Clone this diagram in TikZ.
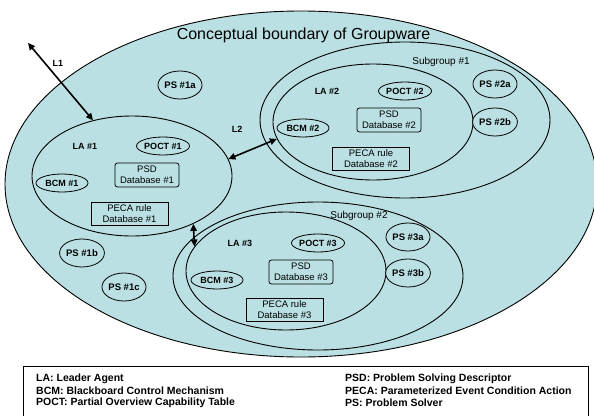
\documentclass[tikz,border=0pt]{standalone}
\usepackage{fontspec}
\setmainfont{Liberation Sans}
\usetikzlibrary{shapes.geometric,arrows.meta}
\definecolor{gwfill}{RGB}{187,224,227}
\begin{document}
\begin{tikzpicture}[x=1pt,y=-1pt,
  region/.style={draw,fill=gwfill,ellipse,line width=0.9pt,inner sep=0pt},
  agentlbl/.style={font=\fontsize{9}{10}\selectfont\bfseries,inner sep=0pt},
  oval/.style={draw,fill=gwfill,ellipse,line width=0.8pt,inner sep=0pt,
    minimum width=50,minimum height=18,font=\fontsize{9}{10}\selectfont\bfseries},
  solver/.style={draw,fill=gwfill,ellipse,line width=0.8pt,inner sep=0pt,
    minimum width=32,minimum height=28,font=\fontsize{9.5}{10}\selectfont\bfseries},
  psdbox/.style={draw,rounded corners=2.5pt,line width=0.8pt,inner sep=0pt,
    minimum width=64,minimum height=24,align=center,
    font=\fontsize{9.5}{11}\selectfont},
  pecabox/.style={draw,line width=0.8pt,inner sep=0pt,
    minimum width=77,minimum height=23,align=center,
    font=\fontsize{9.5}{11}\selectfont},
  grouplbl/.style={font=\fontsize{10}{12}\selectfont,inner sep=0pt},
  link/.style={{Triangle[length=7pt,width=6.5pt]}-{Triangle[length=7pt,width=6.5pt]},line width=1.6pt},
  legendtxt/.style={font=\fontsize{10.5}{12}\selectfont\bfseries,inner sep=0pt,anchor=west}
]
\useasboundingbox (0,0) rectangle (594,415);

% groupware boundary
\node[region,minimum width=592,minimum height=346] (gw) at (301,184) {};
\node[font=\fontsize{16}{19}\selectfont,inner sep=0pt] (title) at (303.5,35) {Conceptual boundary of Groupware};

% subgroup #1
\node[region,minimum width=290,minimum height=156] (sg1) at (405,120) {};
\node[region,minimum width=200,minimum height=116] (la2) at (373,122) {};
\node[grouplbl] (sg1lbl) at (441,62) {Subgroup \#1};

% subgroup #2
\node[region,minimum width=290,minimum height=148] (sg2) at (318,276) {};
\node[region,minimum width=200,minimum height=118] (la3) at (286,271) {};
\node[grouplbl] (sg2lbl) at (359,216) {Subgroup \#2};

% leader agent #1
\node[region,minimum width=200,minimum height=120] (la1) at (132,176) {};
\node[agentlbl] (la1lbl) at (85,146) {LA \#1};
\node[oval] (poct1) at (163,146) {POCT \#1};
\node[oval,minimum width=52] (bcm1) at (62,183) {BCM \#1};
\node[psdbox] (psd1) at (147,175) {PSD\\Database \#1};
\node[pecabox] (peca1) at (129.5,213.5) {PECA rule\\Database \#1};

% leader agent #2
\node[agentlbl] (la2lbl) at (327,91) {LA \#2};
\node[oval] (poct2) at (405,91) {POCT \#2};
\node[oval,minimum width=52] (bcm2) at (303,128) {BCM \#2};
\node[psdbox] (psd2) at (389,120) {PSD\\Database \#2};
\node[pecabox] (peca2) at (371,158.5) {PECA rule\\Database \#2};

% leader agent #3
\node[agentlbl] (la3lbl) at (240,243) {LA \#3};
\node[oval] (poct3) at (318,243) {POCT \#3};
\node[oval,minimum width=52] (bcm3) at (217,280) {BCM \#3};
\node[psdbox] (psd3) at (301,272) {PSD\\Database \#3};
\node[pecabox] (peca3) at (284.5,310) {PECA rule\\Database \#3};

% problem solvers
\node[solver] (ps1a) at (180,85) {PS \#1a};
\node[solver] (ps1b) at (82,253) {PS \#1b};
\node[solver] (ps1c) at (124,287) {PS \#1c};
\node[solver] (ps2a) at (495,84) {PS \#2a};
\node[solver] (ps2b) at (495,122) {PS \#2b};
\node[solver] (ps3a) at (408,237) {PS \#3a};
\node[solver] (ps3b) at (408,273) {PS \#3b};

% links
\coordinate (l1out) at (28,43);
\draw[link] (l1out) -- (la1.125);
\node[agentlbl] (l1lbl) at (58,63) {L1};
\draw[link] (la1.10) -- (la2.190);
\node[agentlbl] (l2lbl) at (237,129) {L2};
\draw[link] (la1.-38) -- (la3.165);

% legend
\draw[line width=0.9pt] (23,366) rectangle (588,430);
\node[legendtxt] (lgla) at (36,379) {LA: Leader Agent};
\node[legendtxt] (lgbcm) at (36,391) {BCM: Blackboard Control Mechanism};
\node[legendtxt] (lgpoct) at (36,403) {POCT: Partial Overview Capability Table};
\node[legendtxt] (lgpsd) at (345,379) {PSD: Problem Solving Descriptor};
\node[legendtxt] (lgpeca) at (345,391) {PECA: Parameterized Event Condition Action};
\node[legendtxt] (lgps) at (345,403) {PS: Problem Solver};
\end{tikzpicture}
\end{document}
